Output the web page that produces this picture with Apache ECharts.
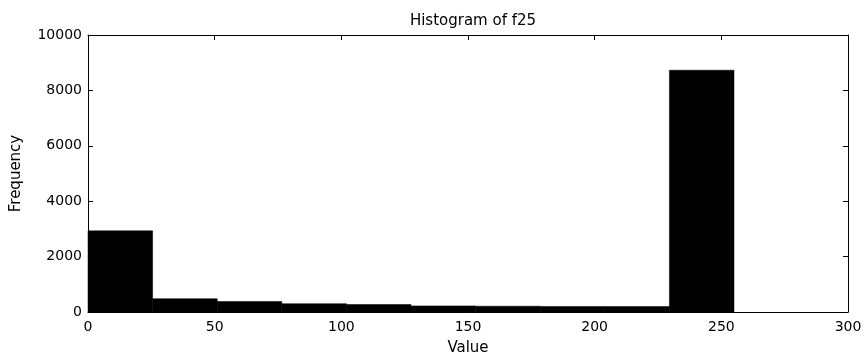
<!DOCTYPE html>
<html>
<head>
<meta charset="utf-8">
<script src="https://cdn.jsdelivr.net/npm/echarts@6/dist/echarts.min.js"></script>
<style>html,body{margin:0;padding:0;background:#fff;}#c{width:867px;height:362px;}</style>
</head>
<body>
<div id="c"></div>
<script>
var binStart = [0, 25.5, 51, 76.5, 102, 127.5, 153, 178.5, 204, 229.5];
var binEnd = [25.5, 51, 76.5, 102, 127.5, 153, 178.5, 204, 229.5, 255];
var counts = [2930, 480, 380, 300, 270, 220, 210, 200, 195, 8730];
var xTicks = [0, 50, 100, 150, 200, 250, 300];
var yTicks = [0, 2000, 4000, 6000, 8000, 10000];

var data = binStart.map(function (s, i) { return [s, binEnd[i], counts[i]]; });
var font = 'DejaVu Sans, sans-serif';
var chart = echarts.init(document.getElementById('c'));
var axisLine = { show: true, onZero: false, lineStyle: { color: '#000', width: 1 } };
var tick = { show: true, inside: true, length: 5, lineStyle: { color: '#000' } };
var plain = function (v) { return String(v); };
chart.setOption({
  animation: false,
  backgroundColor: '#fff',
  title: { text: 'Histogram of f25', left: 468, top: 9, textAlign: 'center',
    textStyle: { fontFamily: font, fontSize: 15, fontWeight: 'normal', color: '#000' } },
  grid: { left: 88, right: 19, top: 35, bottom: 50, show: false },
  xAxis: [
    { type: 'value', min: xTicks[0], max: xTicks[xTicks.length - 1], interval: 50,
      name: 'Value', nameLocation: 'middle', nameGap: 29,
      nameTextStyle: { fontFamily: font, fontSize: 15, color: '#000' },
      axisLine: axisLine, axisTick: tick, splitLine: { show: false },
      axisLabel: { fontFamily: font, fontSize: 14, color: '#000', margin: 8, formatter: plain } },
    { type: 'value', position: 'top', min: xTicks[0], max: xTicks[xTicks.length - 1], interval: 50,
      axisLine: axisLine, axisTick: tick, splitLine: { show: false }, axisLabel: { show: false } }
  ],
  yAxis: [
    { type: 'value', min: yTicks[0], max: yTicks[yTicks.length - 1], interval: 2000,
      name: 'Frequency', nameLocation: 'middle', nameGap: 64, nameRotate: 90,
      nameTextStyle: { fontFamily: font, fontSize: 15, color: '#000' },
      axisLine: axisLine, axisTick: tick, splitLine: { show: false },
      axisLabel: { fontFamily: font, fontSize: 14, color: '#000', margin: 6, formatter: plain } },
    { type: 'value', position: 'right', min: yTicks[0], max: yTicks[yTicks.length - 1], interval: 2000,
      axisLine: axisLine, axisTick: tick, splitLine: { show: false }, axisLabel: { show: false } }
  ],
  series: [{
    type: 'custom',
    xAxisIndex: 0, yAxisIndex: 0,
    data: data,
    encode: { x: [0, 1], y: 2 },
    renderItem: function (params, api) {
      var p0 = api.coord([api.value(0), 0]);
      var p1 = api.coord([api.value(1), api.value(2)]);
      return { type: 'rect',
        shape: { x: p0[0], y: p1[1], width: p1[0] - p0[0], height: p0[1] - p1[1] },
        style: { fill: '#000', stroke: '#000', lineWidth: 0.5 } };
    }
  }]
});
</script>
</body>
</html>
